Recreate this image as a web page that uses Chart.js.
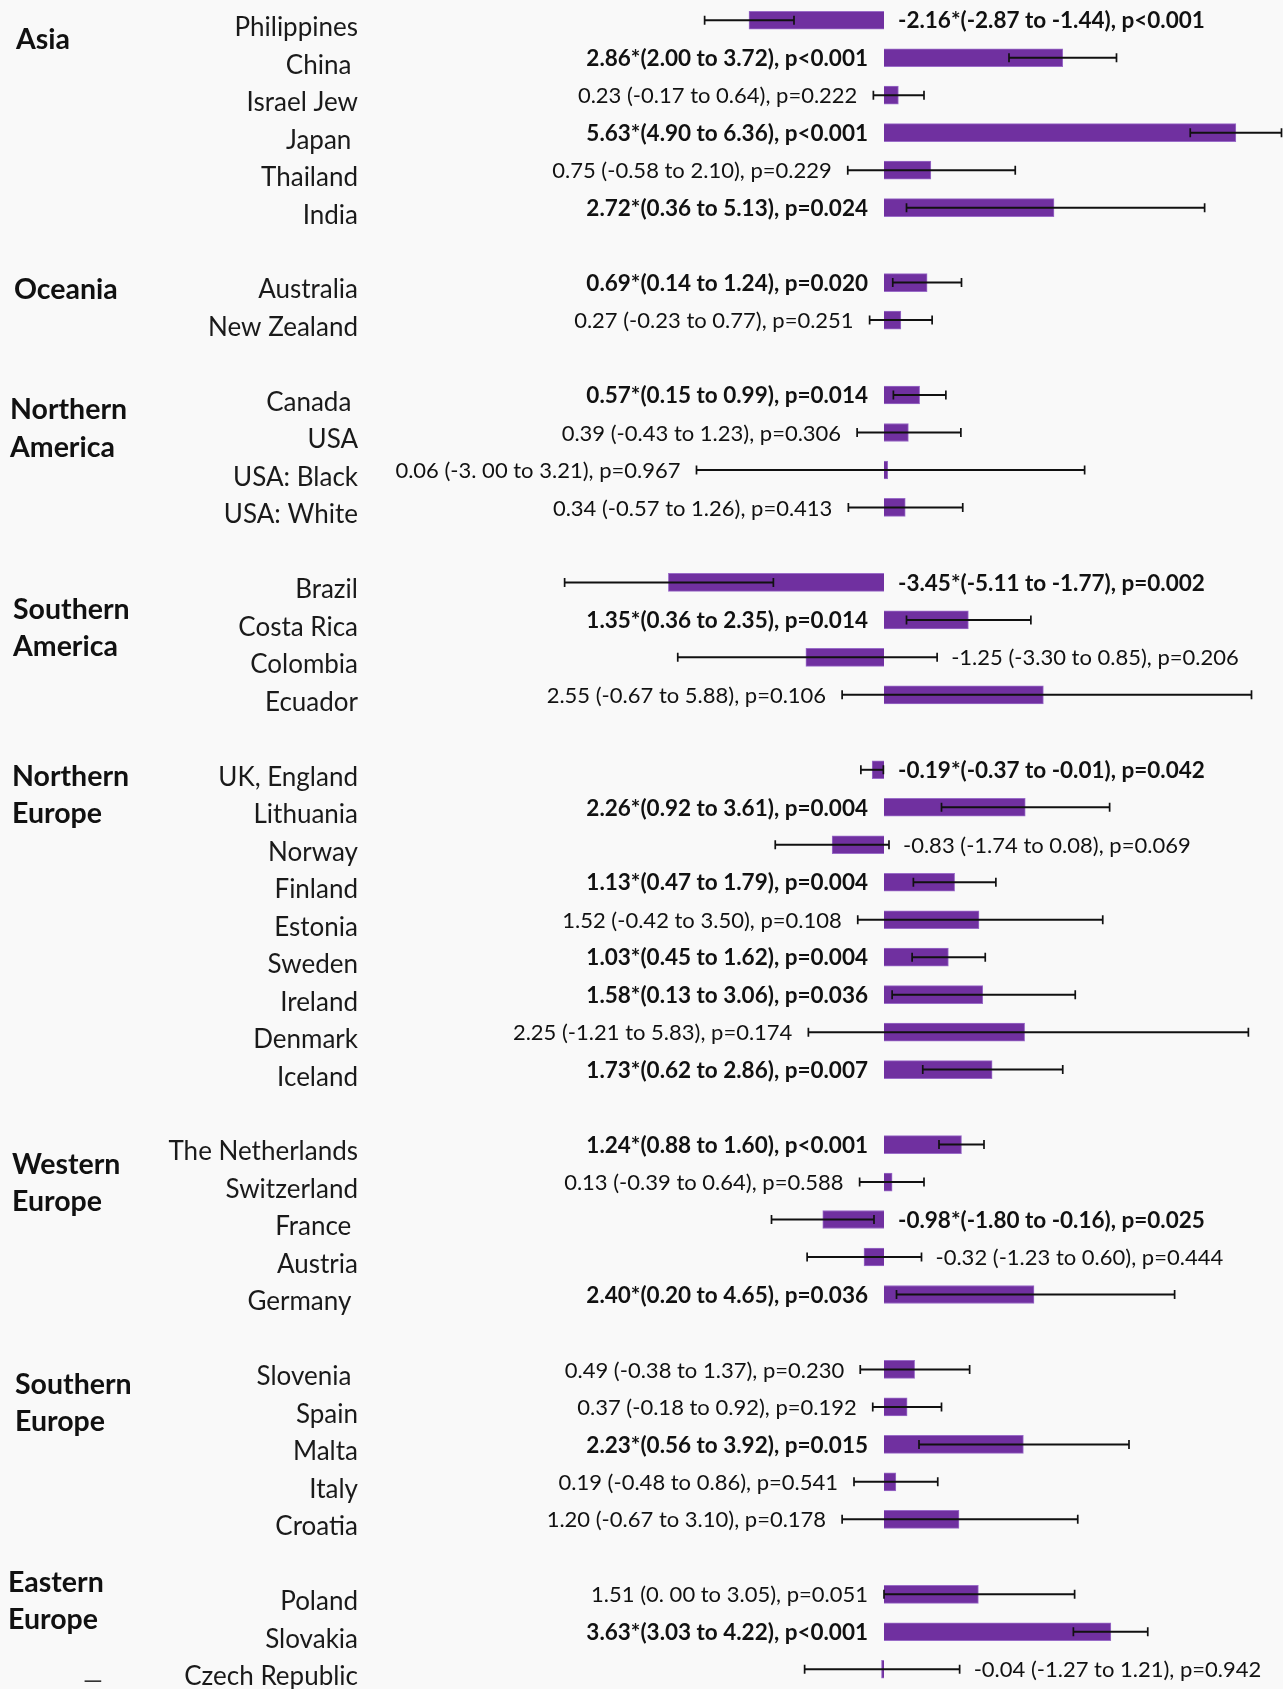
<!DOCTYPE html>
<html>
<head>
<meta charset="utf-8">
<title>Change by country</title>
<script src="https://cdn.jsdelivr.net/npm/chart.js@4/dist/chart.umd.min.js"></script>
<style>
  html, body { margin: 0; padding: 0; background: #f9f9f9; }
  #wrap { position: relative; width: 1283px; height: 1689px; }
</style>
</head>
<body>
<div id="wrap"><canvas id="chart"></canvas></div>
<script>
// ---- data ---------------------------------------------------------------
const regionNames = [
  ['Asia'], ['Oceania'], ['Northern', 'America'], ['Southern', 'America'],
  ['Northern', 'Europe'], ['Western', 'Europe'], ['Southern', 'Europe'], ['Eastern', 'Europe']
];
const groupSizes = [6, 2, 4, 4, 9, 5, 5, 3];

const countries = [
  'Philippines', 'China ', 'Israel Jew', 'Japan ', 'Thailand', 'India',
  'Australia', 'New Zealand',
  'Canada ', 'USA', 'USA: Black', 'USA: White',
  'Brazil', 'Costa Rica', 'Colombia', 'Ecuador',
  'UK, England', 'Lithuania', 'Norway', 'Finland', 'Estonia', 'Sweden', 'Ireland', 'Denmark', 'Iceland',
  'The Netherlands', 'Switzerland', 'France ', 'Austria', 'Germany ',
  'Slovenia ', 'Spain', 'Malta', 'Italy', 'Croatia',
  'Poland', 'Slovakia', 'Czech Republic'
];

const means = [
  -2.16, 2.86, 0.23, 5.63, 0.75, 2.72,
  0.69, 0.27,
  0.57, 0.39, 0.06, 0.34,
  -3.45, 1.35, -1.25, 2.55,
  -0.19, 2.26, -0.83, 1.13, 1.52, 1.03, 1.58, 2.25, 1.73,
  1.24, 0.13, -0.98, -0.32, 2.40,
  0.49, 0.37, 2.23, 0.19, 1.20,
  1.51, 3.63, -0.04
];
const ciLow = [
  -2.87, 2.00, -0.17, 4.90, -0.58, 0.36,
  0.14, -0.23,
  0.15, -0.43, -3.00, -0.57,
  -5.11, 0.36, -3.30, -0.67,
  -0.37, 0.92, -1.74, 0.47, -0.42, 0.45, 0.13, -1.21, 0.62,
  0.88, -0.39, -1.80, -1.23, 0.20,
  -0.38, -0.18, 0.56, -0.48, -0.67,
  0.00, 3.03, -1.27
];
const ciHigh = [
  -1.44, 3.72, 0.64, 6.36, 2.10, 5.13,
  1.24, 0.77,
  0.99, 1.23, 3.21, 1.26,
  -1.77, 2.35, 0.85, 5.88,
  -0.01, 3.61, 0.08, 1.79, 3.50, 1.62, 3.06, 5.83, 2.86,
  1.60, 0.64, -0.16, 0.60, 4.65,
  1.37, 0.92, 3.92, 0.86, 3.10,
  3.05, 4.22, 1.21
];
const pValues = [
  '<0.001', '<0.001', '=0.222', '<0.001', '=0.229', '=0.024',
  '=0.020', '=0.251',
  '=0.014', '=0.306', '=0.967', '=0.413',
  '=0.002', '=0.014', '=0.206', '=0.106',
  '=0.042', '=0.004', '=0.069', '=0.004', '=0.108', '=0.004', '=0.036', '=0.174', '=0.007',
  '<0.001', '=0.588', '=0.025', '=0.444', '=0.036',
  '=0.230', '=0.192', '=0.015', '=0.541', '=0.178',
  '=0.051', '<0.001', '=0.942'
];
// lower-bound text as it is typeset in the source table
const lowTextOverride = { 'USA: Black': '-3. 00', 'Poland': '0. 00' };

// ---- layout constants (rows / pixels) ------------------------------------
const regionLayout = {
  offsetRows: [0.53, 0.20, 0.40, 0.73, 0.18, 0.54, 0.41, -0.31],
  x: [16, 14, 10, 13, 12, 12, 15, 8]
};

// ---- build the row table (one blank row between regions) -----------------
const rowLabels = [], rowMeans = [], rowCountry = [], groupStartRow = [];
let ci = 0;
groupSizes.forEach((n, g) => {
  if (g > 0) { rowLabels.push(''); rowMeans.push(null); rowCountry.push(-1); }
  groupStartRow.push(rowLabels.length);
  for (let k = 0; k < n; k++, ci++) {
    rowLabels.push(countries[ci]);
    rowMeans.push(means[ci]);
    rowCountry.push(ci);
  }
});

function isSignificant(p) {
  if (p[0] === '<') return true;
  return parseFloat(p.slice(1)) < 0.05;
}
function labelText(i) {
  const name = countries[i].trim();
  const lo = lowTextOverride[name] || ciLow[i].toFixed(2);
  const sig = isSignificant(pValues[i]);
  return means[i].toFixed(2) + (sig ? '*' : ' ') + '(' + lo + ' to ' + ciHigh[i].toFixed(2) + '), p' + pValues[i];
}

const FONT = 'Lato, "Open Sans", sans-serif';

// error bars drawn from the CI arrays through the x scale
const errorBars = {
  id: 'errorBars',
  afterDatasetsDraw(chart) {
    const { ctx } = chart;
    const xs = chart.scales.x;
    const meta = chart.getDatasetMeta(0);
    ctx.save();
    ctx.strokeStyle = '#111';
    rowCountry.forEach((c, r) => {
      if (c < 0) return;
      const y = meta.data[r].y;
      const x1 = xs.getPixelForValue(ciLow[c]);
      const x2 = xs.getPixelForValue(ciHigh[c]);
      ctx.lineWidth = 2;
      ctx.beginPath();
      ctx.moveTo(x1, y); ctx.lineTo(x2, y);
      ctx.stroke();
      ctx.lineWidth = 1.7;
      ctx.beginPath();
      ctx.moveTo(x1, y - 4.5); ctx.lineTo(x1, y + 4.5);
      ctx.moveTo(x2, y - 4.5); ctx.lineTo(x2, y + 4.5);
      ctx.stroke();
    });
    ctx.restore();
  }
};

// estimate text beside each bar
const valueLabels = {
  id: 'valueLabels',
  afterDatasetsDraw(chart) {
    const { ctx } = chart;
    const xs = chart.scales.x;
    const meta = chart.getDatasetMeta(0);
    ctx.save();
    ctx.fillStyle = '#111';
    ctx.textBaseline = 'middle';
    rowCountry.forEach((c, r) => {
      if (c < 0) return;
      const y = meta.data[r].y + 1;
      const bold = isSignificant(pValues[c]);
      ctx.font = (bold ? 'bold 22.5px ' : '22px ') + FONT;
      if (means[c] >= 0) {
        ctx.textAlign = 'right';
        ctx.fillText(labelText(c), xs.getPixelForValue(Math.min(0, ciLow[c])) - 16, y);
      } else {
        ctx.textAlign = 'left';
        ctx.fillText(labelText(c), xs.getPixelForValue(Math.max(0, ciHigh[c])) + 14, y);
      }
    });
    ctx.restore();
  }
};

// region headings at the left edge
const regionLabels = {
  id: 'regionLabels',
  afterDraw(chart) {
    const { ctx } = chart;
    const ys = chart.scales.y;
    const step = ys.getPixelForValue(1) - ys.getPixelForValue(0);
    ctx.save();
    ctx.fillStyle = '#111';
    ctx.textBaseline = 'middle';
    ctx.textAlign = 'left';
    ctx.font = 'bold 28.5px ' + FONT;
    regionNames.forEach((lines, g) => {
      const y0 = ys.getPixelForValue(groupStartRow[g]) + regionLayout.offsetRows[g] * step;
      lines.forEach((t, j) => ctx.fillText(t, regionLayout.x[g], y0 + j * step));
    });
    // small dash beside the last row
    const last = rowLabels.length - 1;
    ctx.font = '25px ' + FONT;
    ctx.fillStyle = '#333';
    ctx.fillText('\u2014', 83, ys.getPixelForValue(last) + 0.3 * step);
    ctx.restore();
  }
};

function draw() {
  new Chart(document.getElementById('chart'), {
    type: 'bar',
    data: {
      labels: rowLabels,
      datasets: [{
        data: rowMeans,
        backgroundColor: '#7030a0',
        borderColor: '#9a6cc8',
        borderWidth: 1,
        barThickness: 18
      }]
    },
    options: {
      indexAxis: 'y',
      responsive: true,
      maintainAspectRatio: false,
      animation: false,
      layout: { padding: { top: 1.5, bottom: 1, left: 0, right: 0 } },
      plugins: { legend: { display: false }, tooltip: { enabled: false } },
      scales: {
        x: { type: 'linear', min: -8, max: 6.384, display: false },
        y: {
          grid: { display: false, drawTicks: false },
          border: { display: false },
          ticks: {
            autoSkip: false,
            padding: 26,
            labelOffset: 7.5,
            color: '#1a1a1a',
            font: { family: FONT, size: 26 }
          },
          afterFit(scale) {
            scale.width = 384;
            scale.paddingTop = 0;
            scale.paddingBottom = 0;
          }
        }
      }
    },
    plugins: [errorBars, valueLabels, regionLabels]
  });
}

Promise.all([
  document.fonts.load('24px Lato'),
  document.fonts.load('bold 24px Lato')
]).then(draw, draw);
</script>
</body>
</html>
